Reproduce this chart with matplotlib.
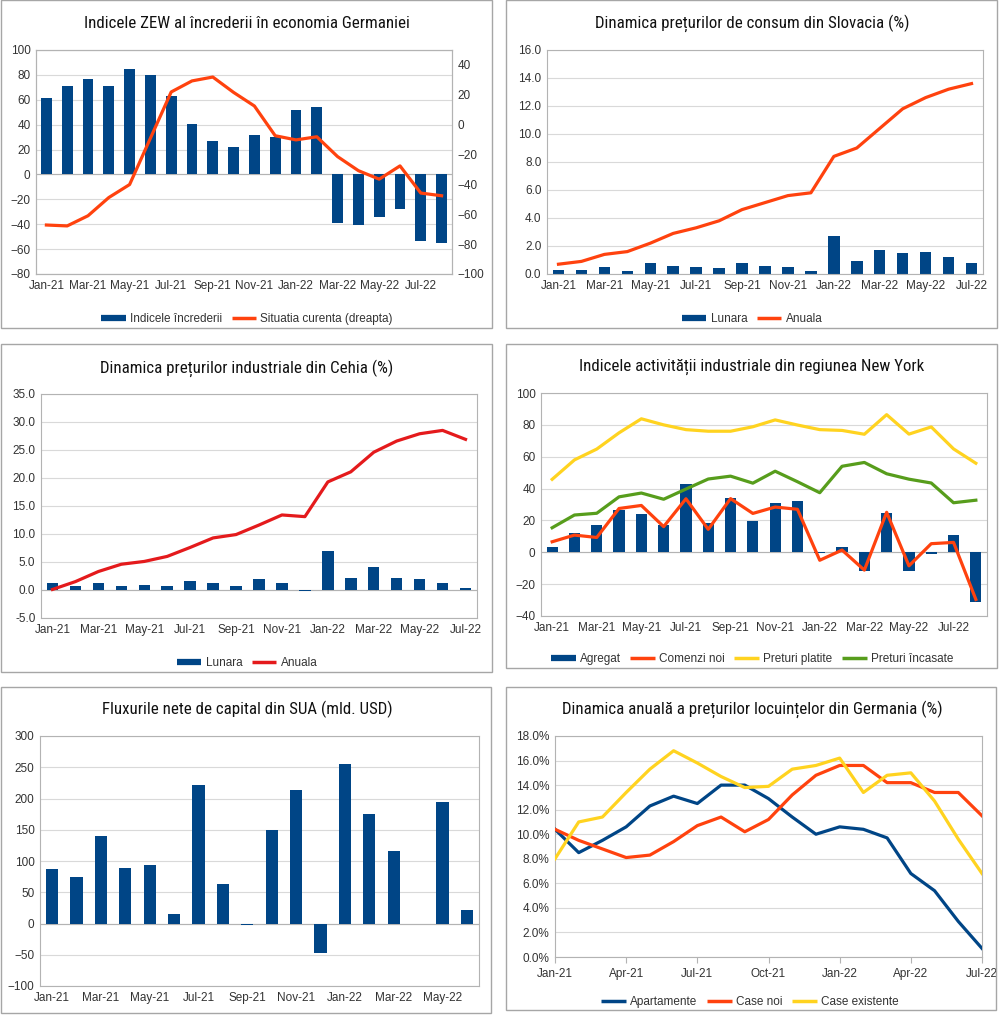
import matplotlib
matplotlib.use("Agg")
import matplotlib.pyplot as plt
from matplotlib import font_manager
from matplotlib.font_manager import FontProperties
from matplotlib.patches import Rectangle
from matplotlib.lines import Line2D
import numpy as np

# ---------------- DATA ----------------
# Panel 1: ZEW Germany (Jan-21 .. Aug-22)
zew_months = ["Jan-21","Feb-21","Mar-21","Apr-21","May-21","Jun-21","Jul-21","Aug-21","Sep-21","Oct-21",
              "Nov-21","Dec-21","Jan-22","Feb-22","Mar-22","Apr-22","May-22","Jun-22","Jul-22","Aug-22"]
zew_sentiment = [61.8, 71.2, 76.6, 70.7, 84.4, 79.8, 63.3, 40.4, 26.5, 22.3,
                 31.7, 29.9, 51.7, 54.3, -39.3, -41.0, -34.3, -28.0, -53.8, -55.3]
zew_current = [-67.2, -67.8, -61.0, -48.8, -40.1, -9.1, 21.9, 29.3, 31.9, 21.6,
               12.5, -7.4, -10.2, -8.1, -21.4, -30.8, -36.5, -27.6, -45.8, -47.6]

# Panel 2: Slovakia CPI (Jan-21 .. Jul-22)
sk_months = zew_months[:19]
sk_monthly = [0.3, 0.3, 0.5, 0.2, 0.8, 0.6, 0.5, 0.4, 0.8, 0.6, 0.5, 0.2, 2.7, 0.9, 1.7, 1.5, 1.6, 1.2, 0.8]
sk_annual = [0.7, 0.9, 1.4, 1.6, 2.2, 2.9, 3.3, 3.8, 4.6, 5.1, 5.6, 5.8, 8.4, 9.0, 10.4, 11.8, 12.6, 13.2, 13.6]

# Panel 3: Czech PPI (Jan-21 .. Jul-22)
cz_months = zew_months[:19]
cz_monthly = [1.3, 0.7, 1.3, 0.7, 0.9, 0.7, 1.6, 1.2, 0.7, 1.9, 1.2, -0.2, 6.9, 2.2, 4.1, 2.2, 1.9, 1.3, 0.3]
cz_annual = [0.1, 1.5, 3.3, 4.6, 5.1, 6.0, 7.6, 9.3, 9.9, 11.6, 13.4, 13.1, 19.3, 21.1, 24.6, 26.6, 27.9, 28.5, 26.9]

# Panel 4: Empire State (Jan-21 .. Aug-22)
ny_months = zew_months
ny_general = [3.5, 12.1, 17.4, 26.3, 24.3, 17.4, 43.0, 18.3, 34.3, 19.8,
              30.9, 31.9, -0.7, 3.1, -11.8, 24.6, -11.6, -1.2, 11.1, -31.3]
ny_new_orders = [6.6, 10.8, 9.3, 27.5, 29.4, 16.1, 33.6, 14.4, 33.7, 24.4,
                 28.4, 27.0, -5.0, 1.4, -11.2, 25.1, -8.5, 5.4, 6.2, -29.6]
ny_prices_paid = [45.8, 58.0, 64.8, 75.0, 83.8, 80.0, 77.0, 76.0, 76.0, 78.8,
                  83.1, 79.9, 77.0, 76.5, 74.1, 86.4, 74.2, 78.7, 64.9, 55.9]
ny_prices_recv = [15.4, 23.4, 24.5, 34.8, 37.2, 33.3, 39.7, 46.0, 47.8, 43.4,
                  50.9, 44.3, 37.4, 54.0, 56.4, 49.3, 45.9, 43.5, 31.1, 32.7]

# Panel 5: US net capital flows (Jan-21 .. Jun-22)
us_months = zew_months[:18]
us_flows = [88, 75, 140, 89, 93, 16, 221, 63, -2, 150, 213, -47, 255, 175, 116, -1, 194, 22]

# Panel 6: German house prices (Jan-21 .. Jul-22)
de_months = zew_months[:19]
de_apart = [10.4, 8.5, 9.5, 10.6, 12.3, 13.1, 12.5, 14.0, 14.0, 12.9, 11.4, 10.0, 10.6, 10.4, 9.7, 6.8, 5.4, 2.9, 0.7]
de_new = [10.4, 9.5, 8.8, 8.1, 8.3, 9.4, 10.7, 11.4, 10.2, 11.2, 13.2, 14.8, 15.6, 15.6, 14.2, 14.2, 13.4, 13.4, 11.5]
de_exist = [8.0, 11.0, 11.4, 13.4, 15.3, 16.8, 15.8, 14.7, 13.8, 13.9, 15.3, 15.6, 16.2, 13.4, 14.8, 15.0, 12.7, 9.6, 6.8]

# ---------------- FONTS ----------------
names = {f.name for f in font_manager.fontManager.ttflist}
body_font = "Liberation Sans" if "Liberation Sans" in names else "DejaVu Sans"
plt.rcParams["font.family"] = [body_font, "DejaVu Sans"]


def _w(f):
    return f.weight if isinstance(f.weight, int) else 400


def pick_title_font():
    entries = font_manager.fontManager.ttflist
    target = 400
    for fam in ["Roboto Condensed", "Liberation Sans Narrow", "Open Sans Condensed",
                "Noto Sans Condensed", "DejaVu Sans Condensed"]:
        cands = [f for f in entries if f.name == fam and f.style == "normal"
                 and "italic" not in f.fname.lower()]
        if cands:
            f = min(cands, key=lambda f: abs(_w(f) - target))
            return FontProperties(fname=f.fname), True
    best = None
    for f in entries:
        st = str(f.stretch).lower()
        fn = f.fname.lower()
        if (("condensed" in st) or ("condensed" in fn) or ("narrow" in fn)) and f.style == "normal" \
                and "italic" not in fn and "extra" not in fn and "ultra" not in fn:
            score = abs(_w(f) - target)
            if ("noto" in fn and "sans" in fn and "mono" not in fn) or "dejavu" in fn or "roboto" in fn or "open" in fn:
                score -= 1000
            if best is None or score < best[0]:
                best = (score, f.fname)
    if best is not None:
        return FontProperties(fname=best[1]), True
    return FontProperties(family=body_font), False


TITLE_FP, CONDENSED = pick_title_font()

BLUE = "#004586"
ORANGE = "#ff420e"
YELLOW = "#ffd320"
GREEN = "#579d1c"
RED = "#e41a1c"
GRID = "#d9d9d9"
AXC = "#b3b3b3"
TXT = "#333333"
TICK_FS = 8.5
LEG_FS = 8.5
TITLE_FS = 12.2 if CONDENSED else 11

W, H = 1000, 1015
fig = plt.figure(figsize=(W / 100, H / 100), dpi=100)
fig.patch.set_facecolor("white")


def fx(x):
    return x / W


def fy(y):
    return 1 - y / H


def panel_box(x0, y0, x1, y1):
    fig.patches.append(Rectangle((fx(x0), fy(y1)), fx(x1 - x0), (y1 - y0) / H,
                                 transform=fig.transFigure, fill=False,
                                 edgecolor="#a6a6a6", linewidth=1.0, zorder=0))


def make_ax(l, t, r, b):
    ax = fig.add_axes([fx(l), fy(b), fx(r - l), (b - t) / H])
    for s in ax.spines.values():
        s.set_color(AXC)
        s.set_linewidth(0.8)
    ax.grid(axis="y", color=GRID, linewidth=0.8)
    ax.set_axisbelow(True)
    ax.tick_params(axis="both", labelsize=TICK_FS, colors=TXT, length=0, pad=4)
    return ax


def title(x, y, s):
    fp = TITLE_FP.copy()
    fp.set_size(TITLE_FS)
    fig.text(fx(x), fy(y), s, ha="center", va="center", fontproperties=fp, color="#111111")


def legend(x, y, handles, labels):
    fig.legend(handles, labels, loc="center", bbox_to_anchor=(fx(x), fy(y)),
               ncol=len(handles), frameon=False, fontsize=LEG_FS, handlelength=2.1,
               handletextpad=0.35, columnspacing=0.8, labelcolor=TXT)


def bar_handle():
    return Line2D([0], [0], color=BLUE, linewidth=4.5, solid_capstyle="butt")


def line_handle(c):
    return Line2D([0], [0], color=c, linewidth=2.5, solid_capstyle="butt")


def cat_xticks(ax, months, step=2):
    idx = list(range(0, len(months), step))
    ax.set_xticks(idx)
    ax.set_xticklabels([months[i] for i in idx])
    ax.set_xlim(-0.5, len(months) - 0.5)


# ---------------- PANEL 1 ----------------
panel_box(1, 0, 492, 328)
ax = make_ax(36, 50, 452, 274)
x = np.arange(len(zew_months))
ax.bar(x, zew_sentiment, width=0.52, color=BLUE, zorder=2)
ax.axhline(0, color=AXC, linewidth=0.8, zorder=1)
ax.set_ylim(-80, 100)
ax.set_yticks(np.arange(-80, 101, 20))
cat_xticks(ax, zew_months)
ax2 = ax.twinx()
ax2.plot(x, zew_current, color=ORANGE, linewidth=2.3, zorder=3)
ax2.set_ylim(-100, 50)
ax2.set_yticks(np.arange(-100, 41, 20))
ax2.tick_params(axis="y", labelsize=TICK_FS, colors=TXT, length=0, pad=4)
for s in ax2.spines.values():
    s.set_color(AXC)
    s.set_linewidth(0.8)
title(247, 23, "Indicele ZEW al încrederii în economia Germaniei")
legend(247, 319, [bar_handle(), line_handle(ORANGE)],
       ["Indicele încrederii", "Situatia curenta (dreapta)"])

# ---------------- PANEL 2 ----------------
panel_box(506, 0, 997, 328)
ax = make_ax(547, 50, 983, 274)
x = np.arange(len(sk_months))
ax.bar(x, sk_monthly, width=0.5, color=BLUE, zorder=2)
ax.plot(x, sk_annual, color=ORANGE, linewidth=2.3, zorder=3)
ax.set_ylim(0, 16)
ax.set_yticks(np.arange(0, 16.1, 2))
ax.set_yticklabels([f"{v:.1f}" for v in np.arange(0, 16.1, 2)])
cat_xticks(ax, sk_months)
title(752, 23, "Dinamica prețurilor de consum din Slovacia (%)")
legend(752, 319, [bar_handle(), line_handle(ORANGE)], ["Lunara", "Anuala"])

# ---------------- PANEL 3 ----------------
panel_box(1, 344, 492, 672)
ax = make_ax(41, 394, 477, 618)
x = np.arange(len(cz_months))
ax.bar(x, cz_monthly, width=0.5, color=BLUE, zorder=2)
ax.axhline(0, color=AXC, linewidth=0.8, zorder=1)
ax.plot(x, cz_annual, color=RED, linewidth=2.3, zorder=3)
ax.set_ylim(-5, 35)
ax.set_yticks(np.arange(-5, 35.1, 5))
ax.set_yticklabels([f"{v:.1f}" for v in np.arange(-5, 35.1, 5)])
cat_xticks(ax, cz_months)
title(247, 368, "Dinamica prețurilor industriale din Cehia (%)")
legend(247, 663, [bar_handle(), line_handle(RED)], ["Lunara", "Anuala"])

# ---------------- PANEL 4 ----------------
panel_box(506, 344, 997, 668)
ax = make_ax(541, 393, 987, 616)
x = np.arange(len(ny_months))
ax.bar(x, ny_general, width=0.5, color=BLUE, zorder=2)
ax.axhline(0, color=AXC, linewidth=0.8, zorder=1)
ax.plot(x, ny_new_orders, color=ORANGE, linewidth=2.3, zorder=4)
ax.plot(x, ny_prices_paid, color=YELLOW, linewidth=2.3, zorder=3)
ax.plot(x, ny_prices_recv, color=GREEN, linewidth=2.3, zorder=3)
ax.set_ylim(-40, 100)
ax.set_yticks(np.arange(-40, 101, 20))
cat_xticks(ax, ny_months)
title(752, 367, "Indicele activității industriale din regiunea New York")
legend(752, 659, [bar_handle(), line_handle(ORANGE), line_handle(YELLOW), line_handle(GREEN)],
       ["Agregat", "Comenzi noi", "Preturi platite", "Preturi încasate"])

# ---------------- PANEL 5 ----------------
panel_box(1, 687, 491, 1013)
ax = make_ax(40, 736, 479, 986)
x = np.arange(len(us_months))
ax.bar(x, us_flows, width=0.5, color=BLUE, zorder=2)
ax.axhline(0, color=AXC, linewidth=0.8, zorder=1)
ax.set_ylim(-100, 300)
ax.set_yticks(np.arange(-100, 301, 50))
cat_xticks(ax, us_months)
title(247, 709, "Fluxurile nete de capital din SUA (mld. USD)")

# ---------------- PANEL 6 ----------------
panel_box(506, 687, 996, 1010)
ax = make_ax(555, 736, 982, 957)
x = np.arange(len(de_months))
ax.plot(x, de_apart, color=BLUE, linewidth=2.3, zorder=3)
ax.plot(x, de_new, color=ORANGE, linewidth=2.3, zorder=3)
ax.plot(x, de_exist, color=YELLOW, linewidth=2.3, zorder=3)
ax.set_ylim(0, 18)
ax.set_yticks(np.arange(0, 18.1, 2))
ax.set_yticklabels([f"{v:.1f}%" for v in np.arange(0, 18.1, 2)])
idx = list(range(0, len(de_months), 3))
ax.set_xticks(idx)
ax.set_xticklabels([de_months[i] for i in idx])
ax.set_xlim(0, len(de_months) - 1)
ax.tick_params(axis="x", length=4, color=AXC)
title(752, 709, "Dinamica anuală a prețurilor locuințelor din Germania (%)")
legend(750, 1002, [line_handle(BLUE), line_handle(ORANGE), line_handle(YELLOW)],
       ["Apartamente", "Case noi", "Case existente"])

fig.savefig("out.png", dpi=100, facecolor="white")
